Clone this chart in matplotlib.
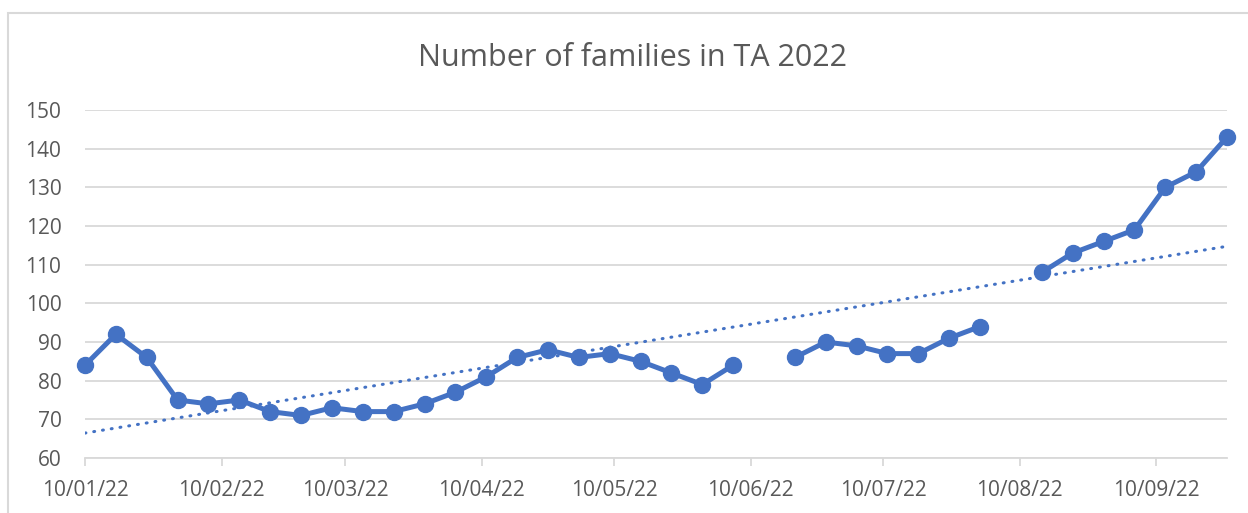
import numpy as np
import pandas as pd
import matplotlib
matplotlib.use("Agg")
import matplotlib.pyplot as plt
import matplotlib.dates as mdates

# weekly counts (blank weeks left as NaN so the line breaks)
week_dates = [
    "2022-01-10", "2022-01-17", "2022-01-24", "2022-01-31", "2022-02-07",
    "2022-02-14", "2022-02-21", "2022-02-28", "2022-03-07", "2022-03-14",
    "2022-03-21", "2022-03-28", "2022-04-04", "2022-04-11", "2022-04-18",
    "2022-04-25", "2022-05-02", "2022-05-09", "2022-05-16", "2022-05-23",
    "2022-05-30", "2022-06-06", "2022-06-13", "2022-06-20", "2022-06-27",
    "2022-07-04", "2022-07-11", "2022-07-18", "2022-07-25", "2022-08-01",
    "2022-08-08", "2022-08-15", "2022-08-22", "2022-08-29", "2022-09-05",
    "2022-09-12", "2022-09-19", "2022-09-26",
]
families = [
    84, 92, 86, 75, 74,
    75, 72, 71, 73, 72,
    72, 74, 77, 81, 86,
    88, 86, 87, 85, 82,
    79, 84, np.nan, 86, 90,
    89, 87, 87, 91, 94,
    np.nan, 108, 113, 116, 119,
    130, 134, 143,
]
tick_dates = ["2022-01-10", "2022-02-10", "2022-03-10", "2022-04-10", "2022-05-10",
              "2022-06-10", "2022-07-10", "2022-08-10", "2022-09-10"]

BLUE = "#4472C4"
GRID = "#D9D9D9"
TEXT = "#595959"

plt.rcParams["font.family"] = ["Open Sans", "DejaVu Sans"]

dates = pd.to_datetime(week_dates)
values = np.array(families, dtype=float)

fig = plt.figure(figsize=(12.48, 5.13), dpi=100)
# chart frame
fig.patches.append(plt.Rectangle((8 / 1248, -0.1), 1.2, 1 - 13 / 513 + 0.1,
                                 transform=fig.transFigure, fill=False,
                                 edgecolor=GRID, linewidth=1.5))
ax = fig.add_axes([85 / 1248, 1 - 458 / 513, (1227 - 85) / 1248, (458 - 110) / 513])

# linear trendline fitted on the non-blank weeks
x_num = mdates.date2num(dates)
mask = ~np.isnan(values)
slope, intercept = np.polyfit(x_num[mask], values[mask], 1)
ax.plot(dates, slope * x_num + intercept, color=BLUE, linewidth=2.2,
        linestyle=(0, (0.3, 2.6)), dash_capstyle="round", zorder=2)

ax.plot(dates, values, color=BLUE, linewidth=3.6, marker="o", markersize=11.5,
        zorder=3, clip_on=False)

ax.set_ylim(60, 150)
ax.set_yticks(range(60, 151, 10))
ax.set_xlim(dates[0], dates[-1])
ax.set_xticks(pd.to_datetime(tick_dates))
ax.xaxis.set_major_formatter(mdates.DateFormatter("%d/%m/%y"))

ax.grid(axis="y", color=GRID, linewidth=1.3)
ax.set_axisbelow(True)
for side in ["top", "right", "left"]:
    ax.spines[side].set_visible(False)
ax.spines["bottom"].set_color(GRID)
ax.spines["bottom"].set_linewidth(1.3)
ax.tick_params(axis="x", colors=GRID, length=6, width=1.3, labelcolor=TEXT,
               labelsize=15, pad=10)
ax.tick_params(axis="y", length=0, labelcolor=TEXT, labelsize=15, pad=17)

fig.text(632 / 1248, 1 - 58 / 513, "Number of families in TA 2022",
         ha="center", va="center", fontsize=22, color=TEXT)

fig.savefig("out.png", dpi=100)
